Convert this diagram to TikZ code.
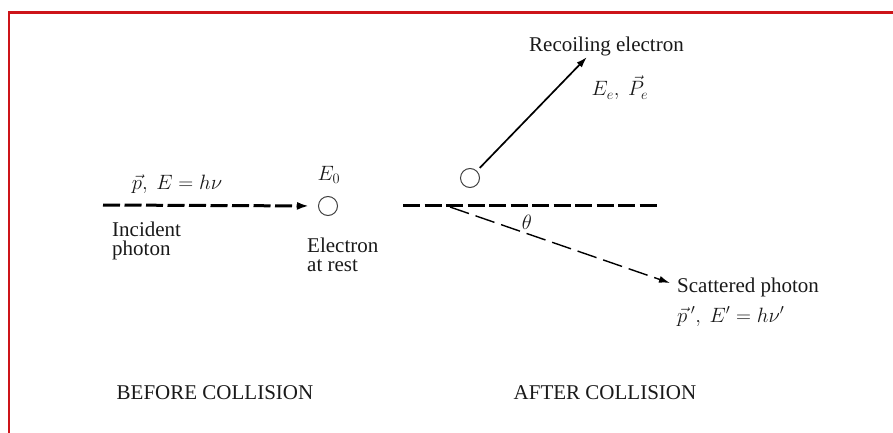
\documentclass[tikz,border=0pt]{standalone}
\usepackage{fontspec}
\setmainfont{Liberation Serif}
\usetikzlibrary{arrows.meta}
\definecolor{framered}{RGB}{205,20,25}

\tikzset{
  lbl/.style={inner sep=0pt, text=black!90, font=\fontsize{21}{19}\selectfont},
  electron/.style={circle, draw=black!75, line width=1pt, minimum size=19pt, inner sep=0pt},
  beam/.style={line width=3pt, dash pattern=on 17pt off 4.5pt},
  scat/.style={line width=1.4pt, dash pattern=on 20pt off 7pt, -{Latex[length=11pt,width=7pt]}},
  recoil/.style={line width=1.7pt, -{Latex[length=11pt,width=7pt]}}
}

\begin{document}
\begin{tikzpicture}[x=1pt,y=-1pt]
\useasboundingbox (0,0) rectangle (893,433);

% frame
\draw[line width=2.5pt, framered] (9,433) -- (9,12.7) -- (893,12.7);

% before collision
\coordinate (inc) at (103,205);
\node[electron] (e0) at (328,206) {};
\draw[beam, shorten >=9pt, -{Latex[length=12pt,width=8pt]}] (inc) -- (e0.west);

\node[lbl] (pin) at (177,184) {$\vec{p},\ E=h\nu$};
\node[lbl] (ezero) at (329,175) {$E_0$};
\node[lbl, anchor=north west, align=left] (incl) at (112,222)
{Incident\\photon};
\node[lbl, anchor=north west, align=left] (rest) at (307,238)
{Electron\\at rest};

% after collision
\coordinate (a0) at (403,205);
\coordinate (a1) at (657,205);
\draw[beam] (a0) -- (a1);

\node[electron] (e1) at (470,178) {};
\coordinate (re) at (587,57);
\draw[recoil, shorten <=4pt] (e1) -- (re);
\node[lbl, anchor=base west] (recl) at (529,52) {Recoiling electron};
\node[lbl] (ee) at (620,88) {$E_e,\ \vec{P}_e$};

\coordinate (s0) at (450,207);
\coordinate (s1) at (670,283);
\draw[scat] (s0) -- (s1);
\node[lbl] (th) at (527,222) {$\theta$};
\node[lbl, anchor=base west] (scl) at (677,292) {Scattered photon};
\node[lbl, anchor=base west] (sce) at (677,322) {$\vec{p}\,',\ E'=h\nu'$};

% captions
\node[lbl] (bc) at (215,393) {BEFORE COLLISION};
\node[lbl] (ac) at (605,393) {AFTER COLLISION};

\end{tikzpicture}
\end{document}
